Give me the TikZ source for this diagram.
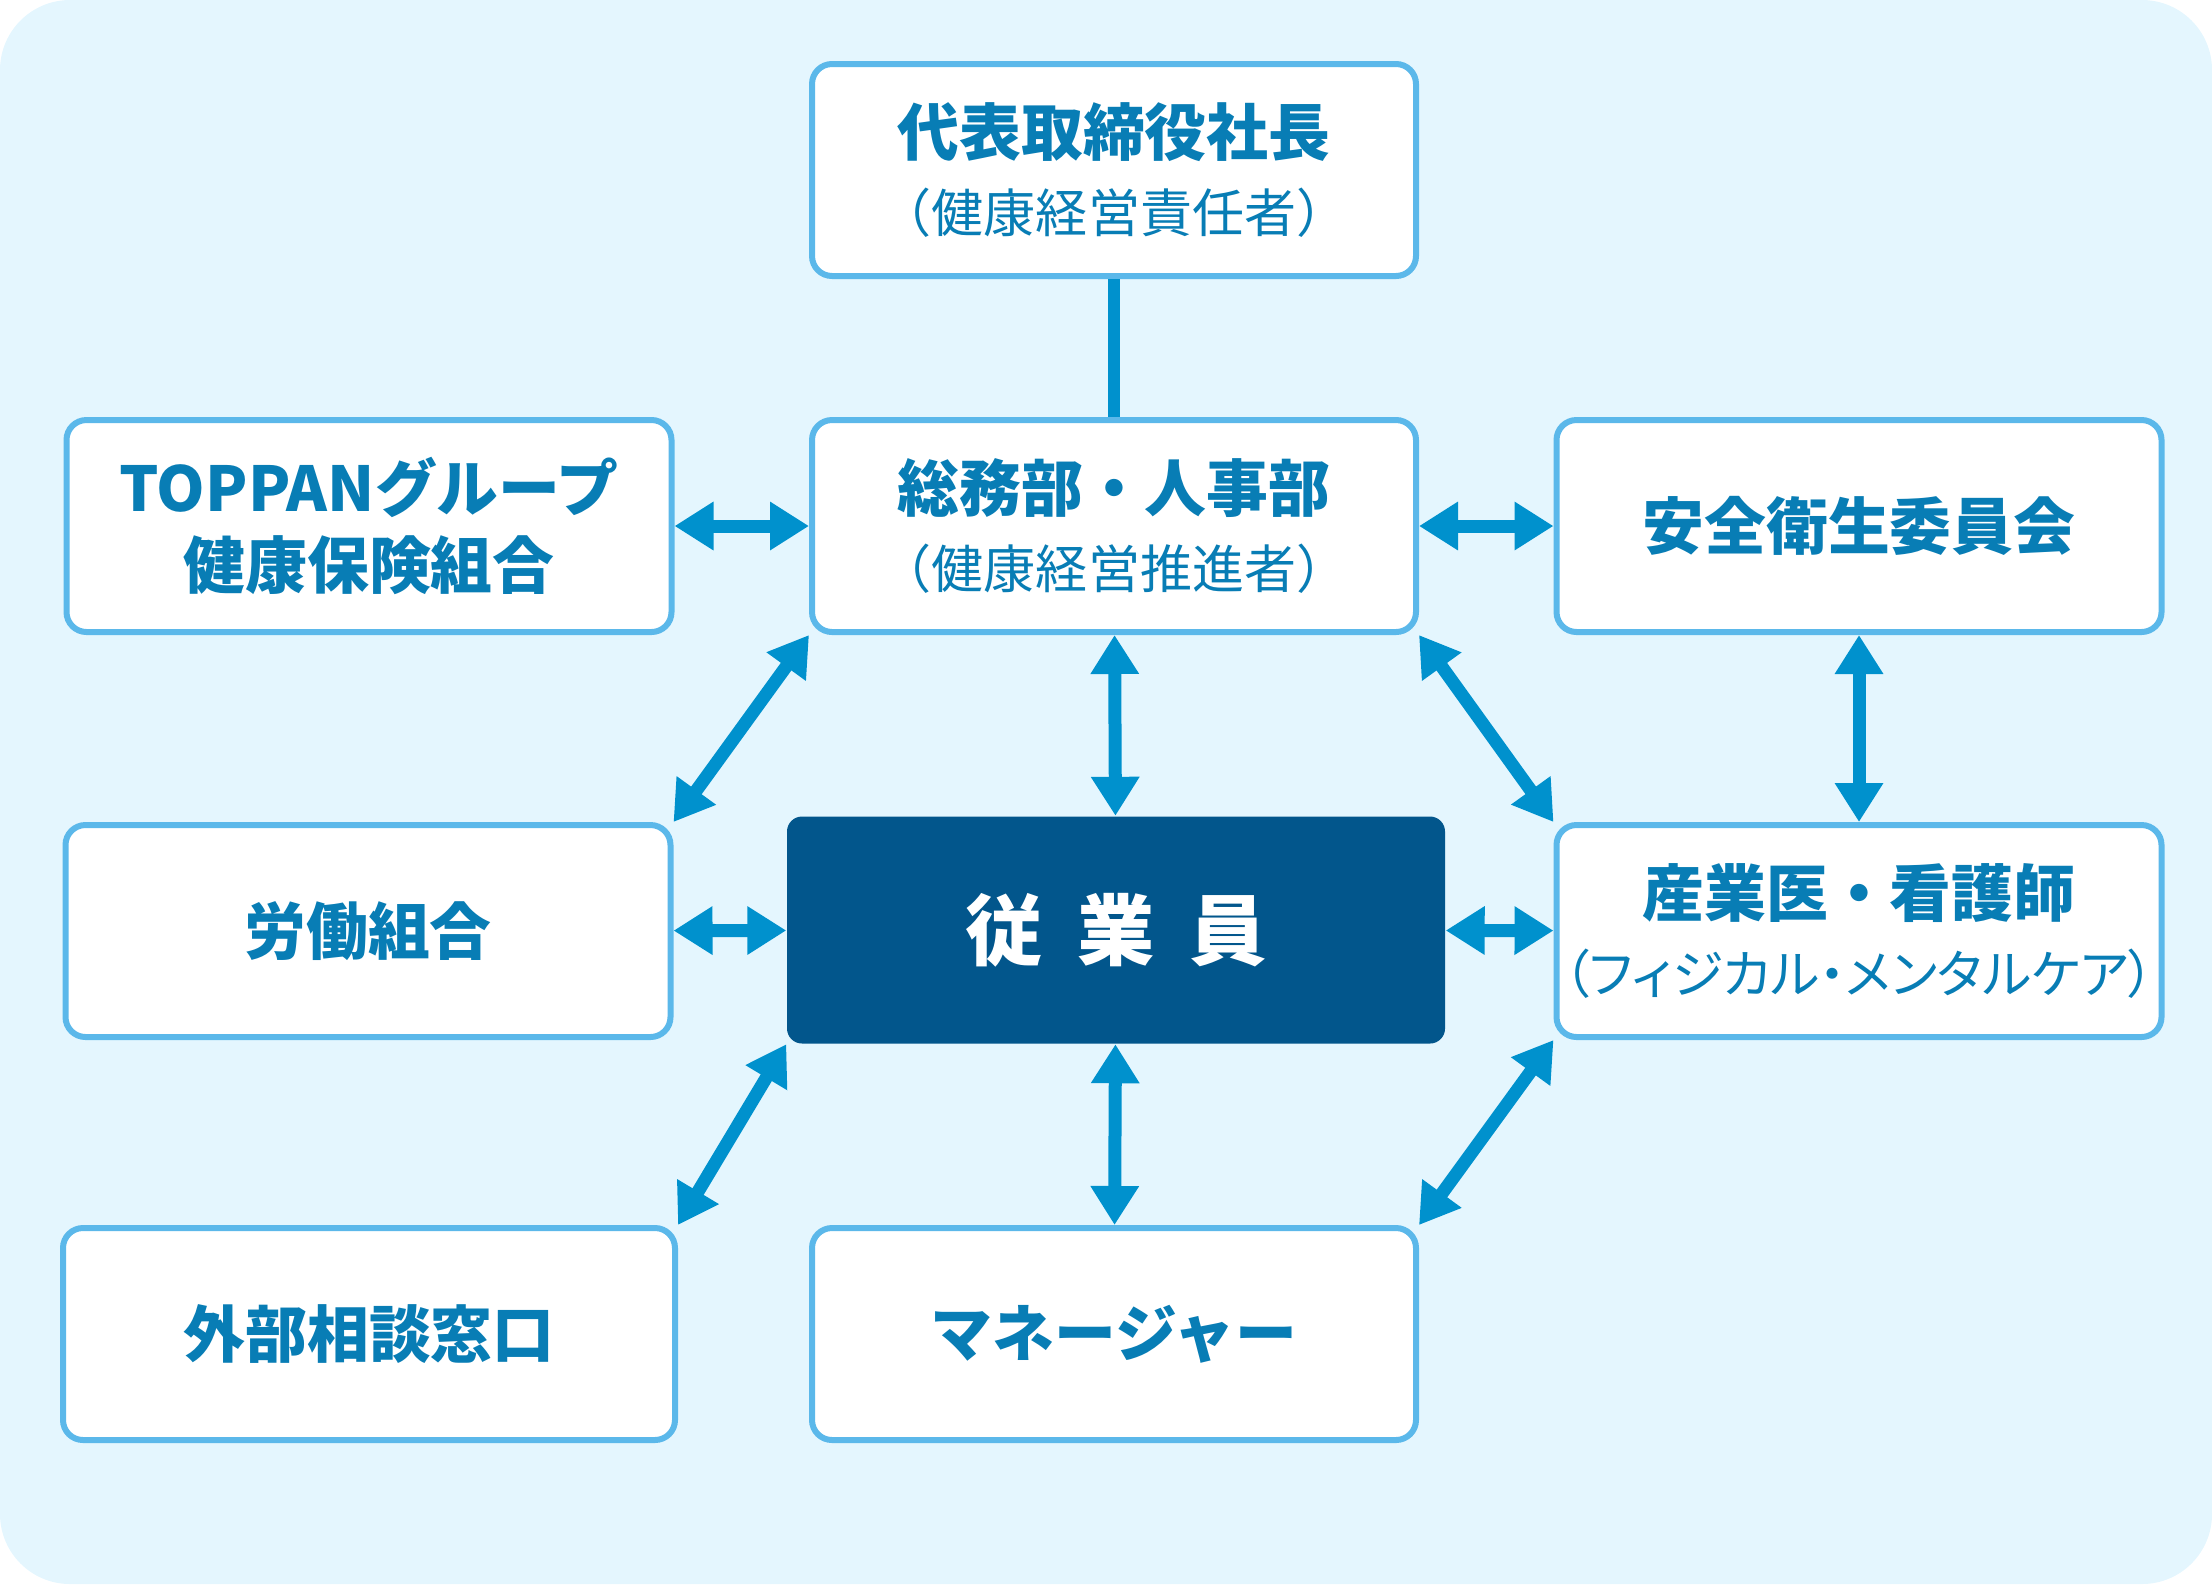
\documentclass[tikz,border=0pt]{standalone}
\usepackage{fontspec}
\setmainfont{Noto Sans CJK JP}
\newfontfamily\paltfont{Noto Sans CJK JP}[RawFeature=+palt]
\usetikzlibrary{arrows.meta,positioning}
\definecolor{bgblue}{HTML}{E4F6FE}
\definecolor{boxline}{HTML}{5BB8EA}
\definecolor{textblue}{HTML}{087DB5}
\definecolor{arrowblue}{HTML}{0091CD}
\definecolor{staffnavy}{HTML}{02568C}
\newcommand\headfont{\fontsize{17.6pt}{22pt}\selectfont\bfseries}
\newcommand\subfont{\fontsize{14.8pt}{22pt}\selectfont\mdseries}
\newcommand\staffont{\fontsize{22pt}{24pt}\selectfont\bfseries}
\tikzset{
box/.style={draw=boxline,line width=0.06cm,fill=white,rounded corners=0.2cm,
  minimum width=6.04cm,minimum height=2.12cm,inner sep=0pt,align=center,
  text=textblue,font=\headfont},
staffbox/.style={fill=staffnavy,rounded corners=0.15cm,minimum width=6.58cm,
  minimum height=2.27cm,text=white,font=\staffont},
arr/.style={<->,>={Triangle[length=0.39cm,width=0.46cm]},line width=0.13cm,draw=arrowblue},
link/.style={line width=0.12cm,draw=arrowblue},
}

\begin{document}
\begin{tikzpicture}
        \useasboundingbox (0,0) rectangle (22.12,-15.84);
        \fill[bgblue,rounded corners=0.7cm] (0,0) rectangle (22.12,-15.84);

        \node[box] (president) at (11.14,-1.70)
            {代表取締役社長\\{\subfont （健康経営責任者）}};
        \node[box] (hr) at (11.14,-5.26)
            {総務部・人事部\\{\subfont （健康経営推進者）}};
        \node[box,minimum width=6.05cm] (insurance) at (3.69,-5.26)
            {TOPPANグループ\\健康保険組合};
        \node[box,minimum width=6.05cm] (committee) at (18.59,-5.26) {安全衛生委員会};
        \node[box,minimum width=6.05cm] (union) at (3.68,-9.31) {労働組合};
        \node[staffbox] (staff) at (11.16,-9.30) {従\hspace{0.45em}業\hspace{0.45em}員};
        \node[box,minimum width=6.05cm] (doctor) at (18.59,-9.31)
            {産業医・看護師\\{\subfont\paltfont （フィジカル・メンタルケア）}};
        \node[box,minimum width=6.12cm] (outside) at (3.69,-13.34) {外部相談窓口};
        \node[box] (manager) at (11.14,-13.34) {マネージャー};

        \draw[link] (president) -- (hr);
        \draw[arr] (insurance) -- (hr);
        \draw[arr] (hr) -- (committee);
        \draw[arr] (hr) -- (staff);
        \draw[arr] (committee) -- (doctor);
        \draw[arr] (hr.south west) -- (union.north east);
        \draw[arr] (hr.south east) -- (doctor.north west);
        \draw[arr] (union) -- (staff);
        \draw[arr] (staff) -- (doctor);
        \draw[arr] (staff) -- (manager);
        \draw[arr] (staff.south west) -- (outside.north east);
        \draw[arr] (doctor.south west) -- (manager.north east);
    \end{tikzpicture}
\end{document}
